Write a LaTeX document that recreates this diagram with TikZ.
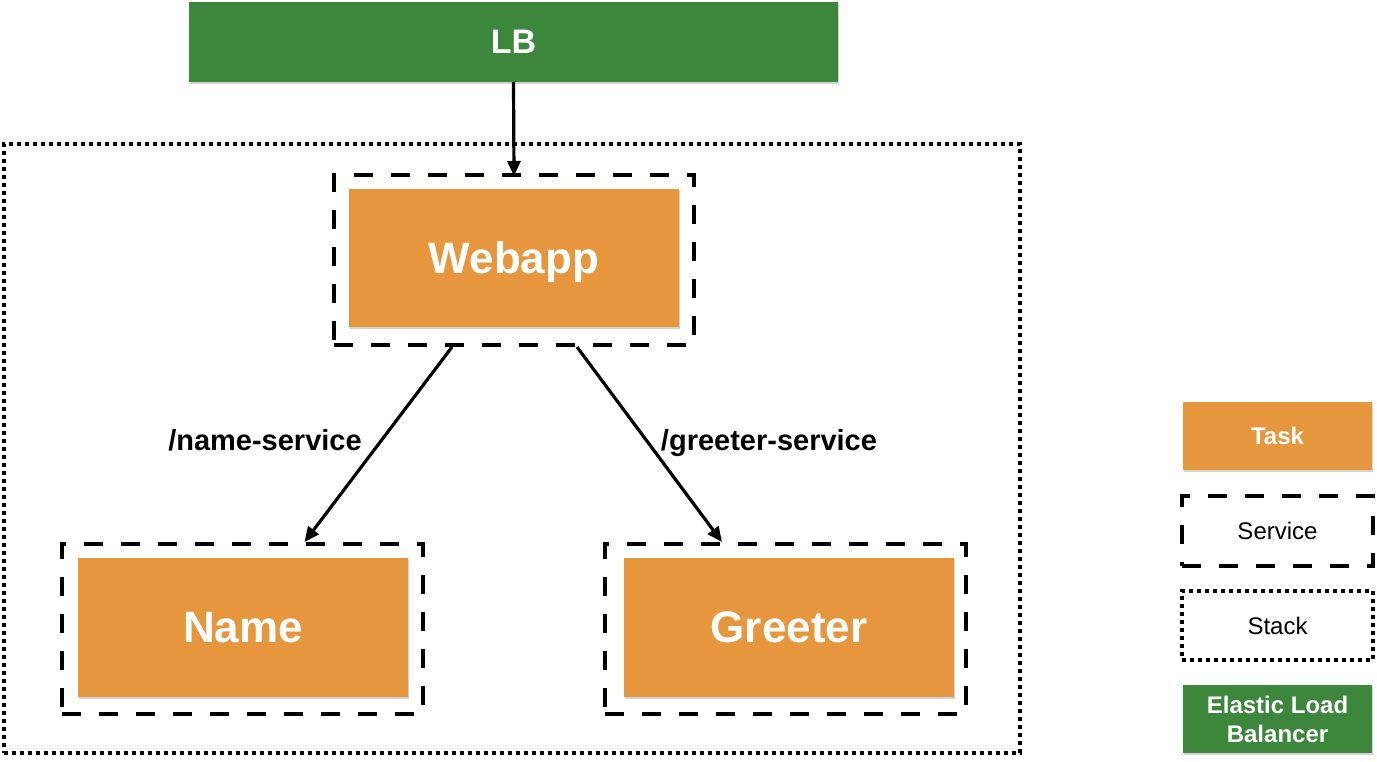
\documentclass[tikz,border=0pt]{standalone}
\usepackage{fontspec}
\setmainfont{Liberation Sans}
\usetikzlibrary{arrows.meta,shadows}
\definecolor{taskorange}{HTML}{E6963C}
\definecolor{lbgreen}{HTML}{3C873C}
\begin{document}
\begin{tikzpicture}[x=1pt,y=-1pt,
  taskbox/.style={fill=taskorange, draw=none, inner sep=0pt, text=white, text depth=0pt,
    font=\bfseries\fontsize{44}{48}\selectfont,
    drop shadow={shadow xshift=1pt,shadow yshift=-2pt,opacity=0.35}},
  lbbox/.style={fill=lbgreen, draw=none, inner sep=0pt, text=white, text depth=0pt,
    font=\bfseries\fontsize{34}{38}\selectfont,
    drop shadow={shadow xshift=1pt,shadow yshift=-2pt,opacity=0.35}},
  svcbox/.style={draw=black, line width=4pt, dash pattern=on 19pt off 18pt, inner sep=0pt, fill=none},
  stackbox/.style={draw=black, line width=3.5pt, dash pattern=on 4pt off 4pt, inner sep=0pt, fill=none},
  conn/.style={line width=3.2pt, -{Triangle[length=15pt,width=13pt]}},
  pathlabel/.style={font=\bfseries\fontsize{29}{32}\selectfont, inner sep=0pt, anchor=base},
  legtext/.style={font=\fontsize{24}{29}\selectfont, align=center},
  legbold/.style={font=\bfseries\fontsize{24}{29}\selectfont, align=center}
]
\useasboundingbox (0,0) rectangle (1377,761);

% stack
\node[stackbox, minimum width=1016pt, minimum height=609pt] (stack) at (512,448.5) {};

% LB
\node[lbbox, minimum width=649pt, minimum height=80pt] (lb) at (513.5,42) {LB};

% webapp
\node[svcbox, minimum width=360pt, minimum height=170pt] (wsvc) at (514,260) {};
\node[taskbox, minimum width=330pt, minimum height=138pt] (web) at (514,258) {Webapp};

% name
\node[svcbox, minimum width=361pt, minimum height=170pt] (nsvc) at (242.5,629) {};
\node[taskbox, minimum width=330pt, minimum height=139pt] (name) at (243,627.5) {Name};

% greeter
\node[svcbox, minimum width=361pt, minimum height=170pt] (gsvc) at (785.5,629) {};
\node[taskbox, minimum width=330pt, minimum height=139pt] (greeter) at (789,627.5) {Greeter};

% connectors
\draw[conn] (lb.south) -- ([yshift=-3pt]wsvc.north);
\draw[conn] ([xshift=-62pt]wsvc.south) -- ([xshift=62pt]nsvc.north);
\draw[conn] ([xshift=63pt]wsvc.south) -- ([xshift=-63.5pt]gsvc.north);

\node[pathlabel] (lname) at (265,450) {/name-service};
\node[pathlabel] (lgreeter) at (769,450) {/greeter-service};

% legend
\node[taskbox, legbold, minimum width=189pt, minimum height=68pt] (legtask) at (1277.5,436) {Task};
\node[svcbox, legtext, minimum width=191pt, minimum height=70pt] (legsvc) at (1277.5,531) {Service};
\node[stackbox, legtext, minimum width=191pt, minimum height=69pt] (legstack) at (1277.5,625.5) {Stack};
\node[lbbox, legbold, minimum width=189pt, minimum height=68pt] (legelb) at (1277.5,719) {Elastic Load\\Balancer};
\end{tikzpicture}
\end{document}
